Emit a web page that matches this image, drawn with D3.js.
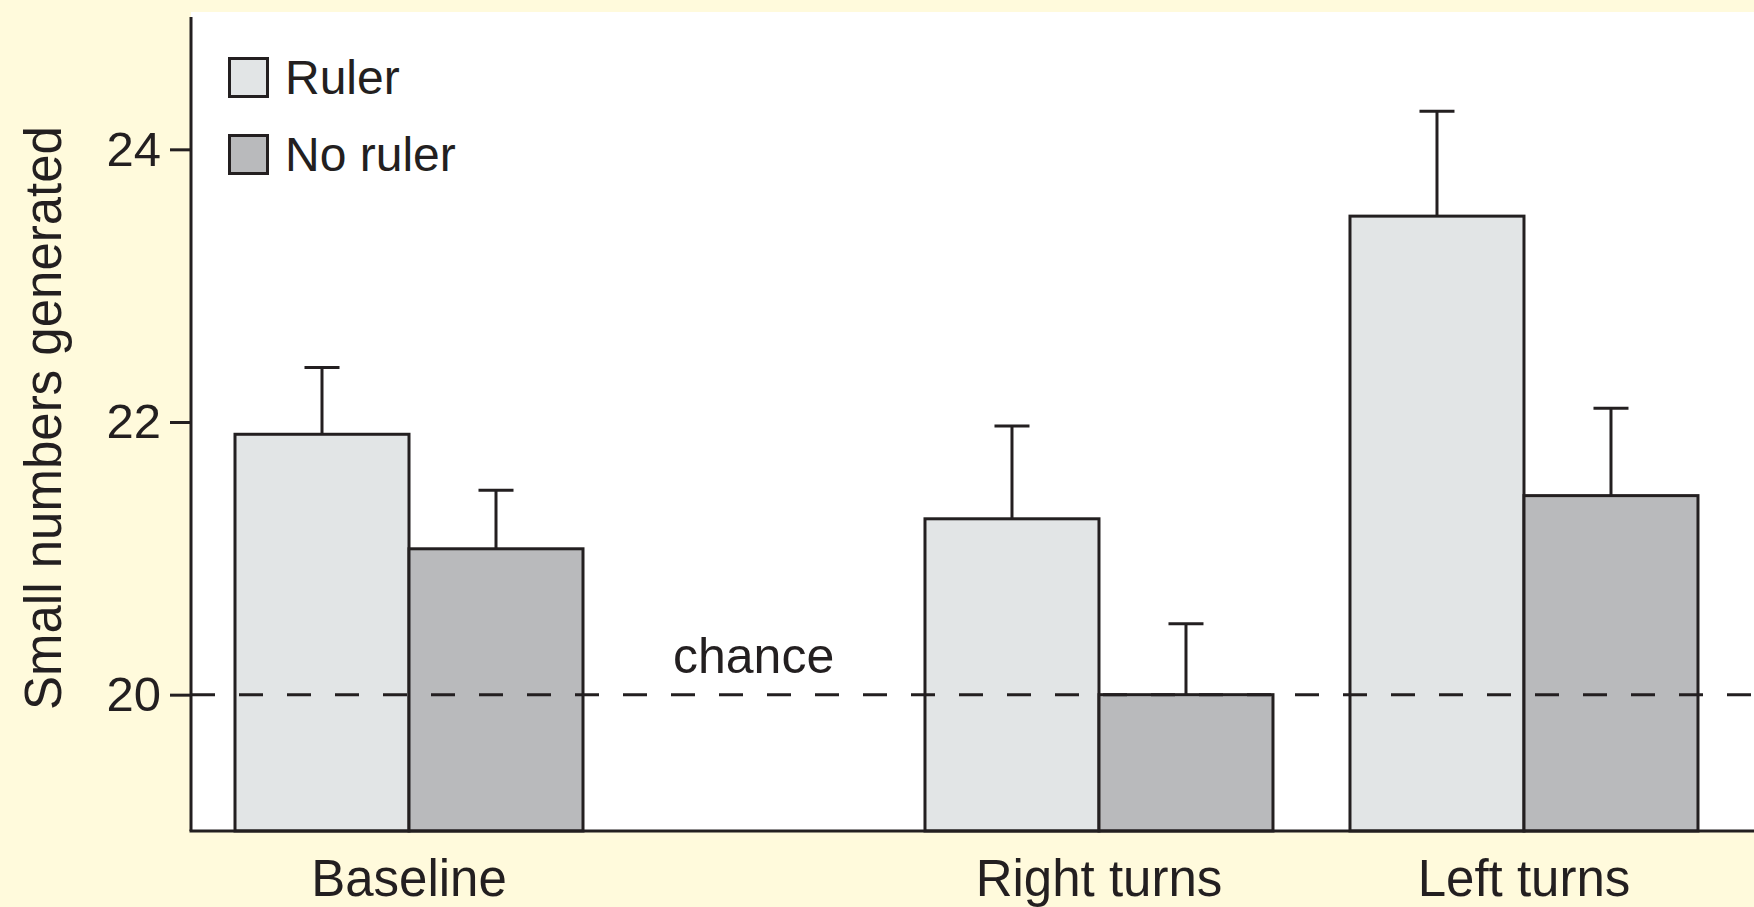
<!DOCTYPE html>
<html>
<head>
<meta charset="utf-8">
<script src="https://cdn.jsdelivr.net/npm/d3@7"></script>
<style>
  html, body { margin: 0; padding: 0; background: #fffadc; }
  svg { display: block; }
  text { font-family: "Liberation Sans", Arial, Helvetica, sans-serif; fill: #231f20; }
</style>
</head>
<body>
<svg id="chart" width="1754" height="907"></svg>
<script>
// ---- data ----
const categories = ["Baseline", "Right turns", "Left turns"];
const seriesNames = ["Ruler", "No ruler"];
const rulerMeans = [21.91, 21.29, 23.51];
const noRulerMeans = [21.07, 20.0, 21.46];
const rulerErrTop = [22.40, 21.97, 24.28];
const noRulerErrTop = [21.50, 20.52, 22.10];
const yTicks = [20, 22, 24];
const chanceLevel = 20;
const chanceLabel = "chance";
const yTitle = "Small numbers generated";

// ---- layout ----
const W = 1754, H = 907;
const plotLeft = 191, plotTop = 12, plotBottom = 831, plotRight = W;
const groupSlots = [0, 1.6235, 2.6235];   // relative group positions (layout)
const ink = "#231f20";
const fills = { "Ruler": "#e2e5e6", "No ruler": "#b9babc" };

const svg = d3.select("#chart");

// background
svg.append("rect").attr("x", 0).attr("y", 0).attr("width", W).attr("height", H).attr("fill", "#fffadc");
svg.append("rect").attr("x", plotLeft).attr("y", plotTop)
  .attr("width", plotRight - plotLeft).attr("height", plotBottom - plotTop).attr("fill", "#ffffff");

// scales
const y = d3.scaleLinear().domain([19, 25]).range([plotBottom, 13]);
const xSlot = d3.scaleLinear().domain([0, 1]).range([235, 660]);
const groupWidth = 348;
const inner = d3.scaleBand().domain(seriesNames).range([0, groupWidth]).padding(0);

const rows = [];
categories.forEach((c, i) => {
  rows.push({ cat: c, i, series: "Ruler", v: rulerMeans[i], err: rulerErrTop[i] });
  rows.push({ cat: c, i, series: "No ruler", v: noRulerMeans[i], err: noRulerErrTop[i] });
});
const bx = d => xSlot(groupSlots[d.i]) + inner(d.series);

// bars
svg.append("g").selectAll("rect").data(rows).join("rect")
  .attr("x", d => bx(d))
  .attr("y", d => y(d.v))
  .attr("width", inner.bandwidth())
  .attr("height", d => y(19) - y(d.v))
  .attr("fill", d => fills[d.series])
  .attr("stroke", ink).attr("stroke-width", 3);

// chance line (drawn over bars)
svg.append("line")
  .attr("x1", plotLeft).attr("x2", plotRight)
  .attr("y1", y(chanceLevel)).attr("y2", y(chanceLevel))
  .attr("stroke", ink).attr("stroke-width", 3)
  .attr("stroke-dasharray", "24,24");

// error bars
const eb = svg.append("g");
eb.selectAll("line.v").data(rows).join("line").attr("class", "v")
  .attr("x1", d => bx(d) + inner.bandwidth() / 2).attr("x2", d => bx(d) + inner.bandwidth() / 2)
  .attr("y1", d => y(d.v)).attr("y2", d => y(d.err))
  .attr("stroke", ink).attr("stroke-width", 3);
eb.selectAll("line.c").data(rows).join("line").attr("class", "c")
  .attr("x1", d => bx(d) + inner.bandwidth() / 2 - 17.5).attr("x2", d => bx(d) + inner.bandwidth() / 2 + 17.5)
  .attr("y1", d => y(d.err)).attr("y2", d => y(d.err))
  .attr("stroke", ink).attr("stroke-width", 3);

// y axis
const yAxis = d3.axisLeft(y).tickValues(yTicks).tickFormat(d3.format("d"))
  .tickSize(21).tickPadding(9).tickSizeOuter(0);
const gy = svg.append("g").attr("transform", `translate(${plotLeft},0)`).call(yAxis);
gy.select(".domain").attr("stroke", ink).attr("stroke-width", 3).attr("d", `M0,${y(24.97)}V${plotBottom}`);
gy.selectAll(".tick line").attr("stroke", ink).attr("stroke-width", 3);
gy.selectAll(".tick text").attr("font-size", 49).attr("fill", ink)
  .attr("font-family", "'Liberation Sans', Arial, sans-serif");

// x axis line
svg.append("line").attr("x1", plotLeft - 1.5).attr("x2", plotRight)
  .attr("y1", plotBottom).attr("y2", plotBottom)
  .attr("stroke", ink).attr("stroke-width", 3);

// category labels
svg.append("g").selectAll("text").data(categories).join("text")
  .attr("x", (d, i) => xSlot(groupSlots[i]) + groupWidth / 2)
  .attr("y", 896)
  .attr("text-anchor", "middle")
  .attr("font-size", 51)
  .text(d => d);

// y title
svg.append("text")
  .attr("transform", `translate(61,${418}) rotate(-90)`)
  .attr("text-anchor", "middle")
  .attr("font-size", 51)
  .text(yTitle);

// chance label
svg.append("text").attr("x", 673).attr("y", 673).attr("font-size", 50).text(chanceLabel);

// legend
const lg = svg.append("g");
seriesNames.forEach((s, i) => {
  const cy = 77.5 + i * 77;
  lg.append("rect").attr("x", 229.5).attr("y", cy - 19).attr("width", 38).attr("height", 38)
    .attr("fill", fills[s]).attr("stroke", ink).attr("stroke-width", 3);
  lg.append("text").attr("x", 285).attr("y", cy + 16).attr("font-size", 48).text(s);
});
</script>
</body>
</html>
